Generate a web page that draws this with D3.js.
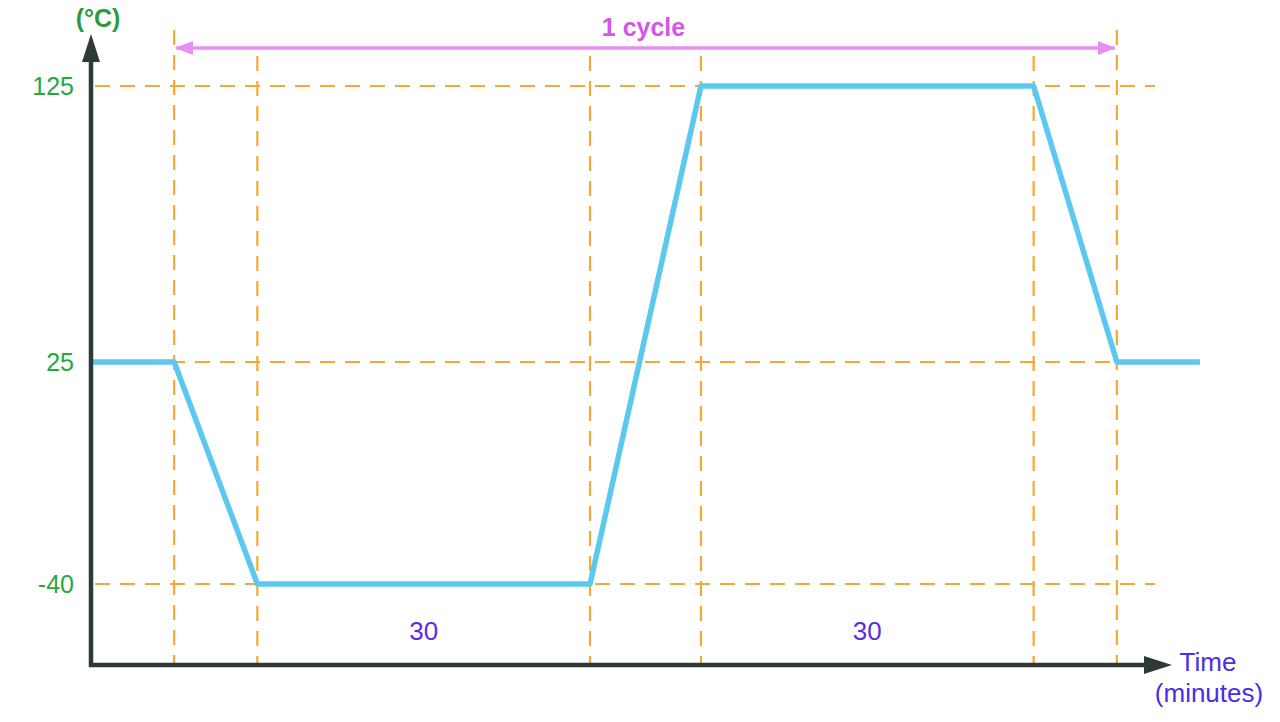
<!DOCTYPE html>
<html><head><meta charset="utf-8">
<script src="https://cdn.jsdelivr.net/npm/d3@7"></script>
<style>html,body{margin:0;padding:0;background:#fff;}svg{display:block;}</style>
</head><body>
<svg id="chart" width="1280" height="722"></svg>
<script>
// Data
const timeValues = [-7.5, 0, 7.5, 37.5, 47.5, 77.5, 85, 92.5];
const tempValues = [25, 25, -40, -40, 125, 125, 25, 25];
const yTicks = [125, 25, -40];
const gridTimes = [0, 7.5, 37.5, 47.5, 77.5, 85];
const durationLabels = [{t: 22.5, text: "30"}, {t: 62.5, text: "30"}];
const cycleSpan = [0, 85];
const cycleLabel = "1 cycle";
const yUnit = "(°C)";
const xTitle = ["Time", "(minutes)"];

const svg = d3.select("#chart");
const x = d3.scaleLinear().domain([-7.5, 92.5]).range([91, 1200]);
// schematic (non-uniform) temperature axis
const y = d3.scaleLinear().domain([-40, 25, 125]).range([584, 362, 86]);

const axisX0 = 91, axisY0 = 665;
const orange = "#F5A833";
const font = "Liberation Sans, Arial, sans-serif";

const defs = svg.append("defs");
defs.append("marker").attr("id","axArrow").attr("viewBox","0 0 28 18").attr("refX",2).attr("refY",9)
  .attr("markerWidth",28).attr("markerHeight",18).attr("markerUnits","userSpaceOnUse").attr("orient","auto")
  .append("path").attr("d","M0,0 L28,9 L0,18 Z").attr("fill","#2E3A3A");
defs.append("marker").attr("id","pinkArrow").attr("viewBox","0 0 18 14").attr("refX",17).attr("refY",7)
  .attr("markerWidth",18).attr("markerHeight",14).attr("markerUnits","userSpaceOnUse").attr("orient","auto-start-reverse")
  .append("path").attr("d","M0,0 L18,7 L0,14 Z").attr("fill","#E88DF2");

// horizontal grid lines
svg.append("g").selectAll("line").data(yTicks).join("line")
  .attr("x1", 95).attr("x2", 1155)
  .attr("y1", d => y(d)).attr("y2", d => y(d))
  .attr("stroke", orange).attr("stroke-width", 2.2).attr("stroke-dasharray", "15,10");

// vertical grid lines
svg.append("g").selectAll("line").data(gridTimes).join("line")
  .attr("x1", d => x(d)).attr("x2", d => x(d))
  .attr("y1", d => (d === cycleSpan[0] || d === cycleSpan[1]) ? 30 : 56).attr("y2", axisY0)
  .attr("stroke", orange).attr("stroke-width", 2.2).attr("stroke-dasharray", "15,10");

// cycle arrow
svg.append("line")
  .attr("x1", x(cycleSpan[0]) + 2).attr("x2", x(cycleSpan[1]) - 2)
  .attr("y1", 48).attr("y2", 48)
  .attr("stroke", "#E88DF2").attr("stroke-width", 3.5)
  .attr("marker-start", "url(#pinkArrow)").attr("marker-end", "url(#pinkArrow)");
svg.append("text").attr("x", x((cycleSpan[0]+cycleSpan[1])/2) - 2).attr("y", 36)
  .attr("text-anchor","middle").attr("font-family",font)
  .attr("font-size", 25).attr("font-weight","bold").attr("fill", "#D455E8").text(cycleLabel);

// temperature line
const line = d3.line().x((d,i) => x(timeValues[i])).y(d => y(d));
svg.append("path").datum(tempValues).attr("d", line)
  .attr("fill","none").attr("stroke","#5CC8EF").attr("stroke-width",5.5).attr("stroke-linejoin","round");

// axes
svg.append("line").attr("x1", axisX0).attr("x2", axisX0).attr("y1", axisY0 + 2).attr("y2", 60)
  .attr("stroke","#2E3A3A").attr("stroke-width",4.5).attr("marker-end","url(#axArrow)");
svg.append("line").attr("x1", axisX0 - 2).attr("x2", 1146).attr("y1", axisY0).attr("y2", axisY0)
  .attr("stroke","#2E3A3A").attr("stroke-width",4.5).attr("marker-end","url(#axArrow)");

// y tick labels
svg.append("g").selectAll("text").data(yTicks).join("text")
  .attr("x", 74).attr("y", d => y(d) + 9).attr("text-anchor","end")
  .attr("font-family",font).attr("font-size", 25)
  .attr("fill","#27A83A").text(d => d);

svg.append("text").attr("x", 98).attr("y", 27).attr("text-anchor","middle")
  .attr("font-family",font).attr("font-size", 25).attr("font-weight","bold")
  .attr("fill","#2E9A3E").text(yUnit);

// duration labels
svg.append("g").selectAll("text").data(durationLabels).join("text")
  .attr("x", d => x(d.t)).attr("y", 640).attr("text-anchor","middle")
  .attr("font-family",font).attr("font-size", 26)
  .attr("fill","#5B2EE0").text(d => d.text);

// x title
svg.append("g").selectAll("text").data(xTitle).join("text")
  .attr("x", d => d === "Time" ? 1208 : 1209).attr("y", (d,i) => 671 + i*31).attr("text-anchor","middle")
  .attr("font-family",font).attr("font-size", 26)
  .attr("fill","#4A2DE8").text(d => d);
</script>
</body></html>
